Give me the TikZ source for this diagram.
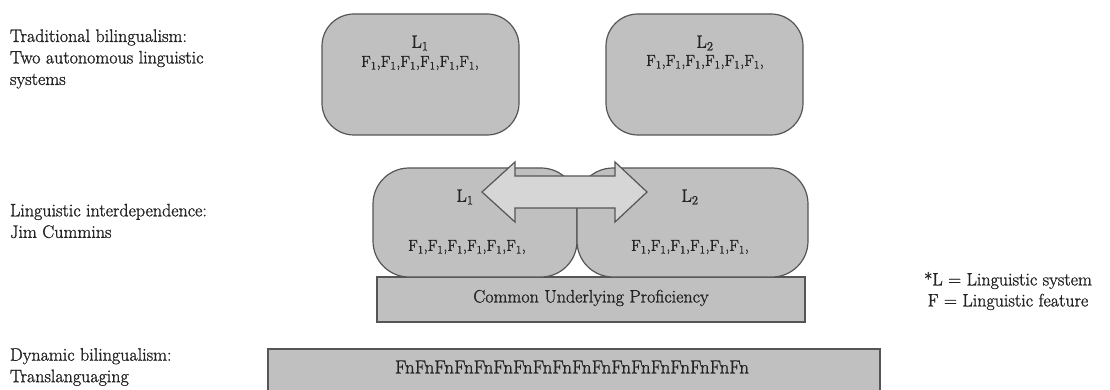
\documentclass[tikz,border=0pt]{standalone}
\usepackage{fontspec}
\setmainfont{Latin Modern Roman}[FakeBold=1.2]
\usepackage{tikz}
\definecolor{boxfill}{RGB}{192,192,192}
\definecolor{arrfill}{RGB}{214,214,214}
\definecolor{edge}{RGB}{85,85,85}
\definecolor{ink}{RGB}{35,35,35}
\newcommand{\fsub}{F\textsubscript{1}}
\begin{document}
\begin{tikzpicture}[x=1pt,y=-1pt,
  every node/.style={text=ink, inner sep=0pt, outer sep=0pt},
  lbl/.style={font=\fontsize{18}{21.5}\selectfont, align=left, anchor=west},
  rbox/.style={draw=edge, fill=boxfill, line width=1.2pt, rounded corners=32pt},
  sbox/.style={draw=edge, fill=boxfill, line width=1.2pt},
  ltxt/.style={font=\fontsize{18}{21}\selectfont},
  ftxt/.style={font=\fontsize{16}{20}\selectfont},
  arrowbody/.style={draw=edge, fill=arrfill, line width=1.2pt, line join=miter}
]
\clip (0,0) rectangle (1110,390);
\fill[white] (0,0) rectangle (1110,390);

% left labels
\node[lbl] (lab1) at (10,59) {Traditional bilingualism:\\Two autonomous linguistic\\systems};
\node[lbl] (lab2) at (10,221) {Linguistic interdependence:\\Jim Cummins};
\node[lbl] (lab3) at (10,367) {Dynamic bilingualism:\\Translanguaging};

% top row
\node[rbox, minimum width=197pt, minimum height=121pt] (t1) at (420.5,74.5) {};
\node[rbox, minimum width=197pt, minimum height=121pt] (t2) at (704.5,74.5) {};
\node[ltxt] (t1l) at (420,43) {L\textsubscript{1}};
\node[ftxt] (t1f) at (420,63) {\fsub,\fsub,\fsub,\fsub,\fsub,\fsub,};
\node[ltxt] (t2l) at (705,43) {L\textsubscript{2}};
\node[ftxt] (t2f) at (705,62) {\fsub,\fsub,\fsub,\fsub,\fsub,\fsub,};

% middle row
\node[sbox, minimum width=428pt, minimum height=45pt] (cup) at (591,299.5) {};
\node[ltxt] (cupt) at (591,298) {Common Underlying Proficiency};
\node[rbox, rounded corners=36pt, minimum width=204pt, minimum height=109pt] (m1) at (475,222.5) {};
\node[rbox, rounded corners=36pt, minimum width=231pt, minimum height=109pt] (m2) at (692.5,222.5) {};
\draw[arrowbody] (482,192) -- (515,162) -- (515,176) -- (615,176) -- (615,162)
  -- (647,192) -- (615,222) -- (615,208) -- (515,208) -- (515,222) -- cycle;
\node[ltxt] (m1l) at (465,197) {L\textsubscript{1}};
\node[ltxt] (m2l) at (690,197) {L\textsubscript{2}};
\node[ftxt] (m1f) at (467,247) {\fsub,\fsub,\fsub,\fsub,\fsub,\fsub,};
\node[ftxt] (m2f) at (690,247) {\fsub,\fsub,\fsub,\fsub,\fsub,\fsub,};

% legend
\node[ltxt, align=center] (leg) at (1008,291) {*L = Linguistic system\\F = Linguistic feature};

% bottom row
\node[sbox, minimum width=612pt, minimum height=60pt] (bot) at (574,379) {};
\node[font=\fontsize{19}{22}\selectfont] (bott) at (572,367) {FnFnFnFnFnFnFnFnFnFnFnFnFnFnFnFnFnFn};
\end{tikzpicture}
\end{document}
